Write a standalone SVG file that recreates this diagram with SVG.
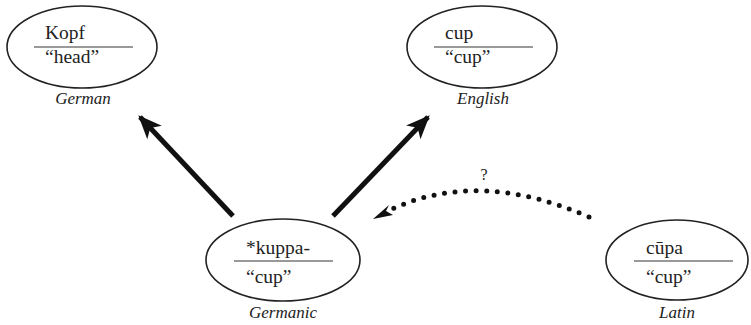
<svg xmlns="http://www.w3.org/2000/svg" width="751" height="325" viewBox="0 0 751 325">
<style>
.el{fill:none;stroke:#222;stroke-width:1.6}
.rule{stroke:#777;stroke-width:1.3}
text{font-family:'Liberation Serif','Tinos','DejaVu Serif',serif;fill:#222}
.t{font-size:19.5px}
.lbl{font-size:17px;font-style:italic;text-anchor:middle}
.arr{stroke:#111;stroke-width:5;fill:none}
.dot{stroke:#111;stroke-width:5;fill:none;stroke-linecap:round;stroke-dasharray:0 10.6}
</style>
<defs>
<marker id="ah" markerUnits="userSpaceOnUse" markerWidth="30" markerHeight="30" viewBox="-20 -10 24 20" refX="0" refY="0" orient="auto">
<path d="M2,0 L-17,-8 L-12,0 L-17,8 Z" fill="#111"/>
</marker>
</defs>
<g id="german">
<ellipse class="el" cx="82" cy="47" rx="75" ry="41"/>
<text class="t" x="45" y="39">Kopf</text>
<line class="rule" x1="34" y1="47" x2="133" y2="47"/>
<text class="t" x="45" y="63">“head”</text>
<text class="lbl" x="83" y="104">German</text>
</g>
<g id="english">
<ellipse class="el" cx="482" cy="47" rx="75" ry="41"/>
<text class="t" x="445" y="39">cup</text>
<line class="rule" x1="434" y1="47" x2="533" y2="47"/>
<text class="t" x="445" y="63">“cup”</text>
<text class="lbl" x="483" y="104">English</text>
</g>
<g id="germanic">
<ellipse class="el" cx="283" cy="260" rx="77" ry="41"/>
<text class="t" x="246" y="254">*kuppa-</text>
<line class="rule" x1="234" y1="261" x2="333" y2="261"/>
<text class="t" x="246" y="283">“cup”</text>
<text class="lbl" x="283" y="318">Germanic</text>
</g>
<g id="latin">
<ellipse class="el" cx="677" cy="260" rx="71" ry="40"/>
<text class="t" x="646" y="254">cūpa</text>
<line class="rule" x1="634" y1="261" x2="733" y2="261"/>
<text class="t" x="646" y="283">“cup”</text>
<text class="lbl" x="677" y="318">Latin</text>
</g>
<g id="connectors">
<line class="arr" x1="233" y1="216" x2="140" y2="117" marker-end="url(#ah)"/>
<line class="arr" x1="333" y1="216" x2="428" y2="117" marker-end="url(#ah)"/>
<path class="dot" d="M589,217 Q480,169 392,209"/>
<path d="M373,219 L389,205 L386,211 L393,215 Z" fill="#111"/>
<text x="484" y="180" text-anchor="middle" style="font-size:16px">?</text>
</g>
</svg>
